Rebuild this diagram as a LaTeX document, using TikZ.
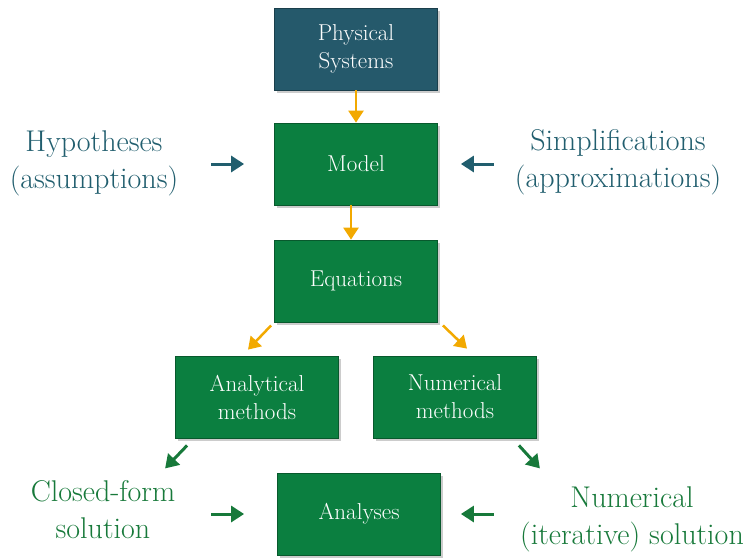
\documentclass[tikz,border=0pt]{standalone}
\usepackage{tikz}
\usetikzlibrary{arrows.meta,shadows}

\definecolor{boxteal}{HTML}{25596B}
\definecolor{textteal}{HTML}{215E6E}
\definecolor{boxgreen}{HTML}{0B7F40}
\definecolor{textgreen}{HTML}{17793A}
\definecolor{arrorange}{HTML}{F2A900}

\begin{document}
\begin{tikzpicture}[x=1pt,y=-1pt,
    box/.style={fill=boxgreen,draw=boxgreen!70!black,line width=0.8pt,
      minimum width=163pt,minimum height=82pt,inner sep=0pt,align=center,
      text=white,font=\fontsize{23}{28}\selectfont,
      drop shadow={shadow xshift=2pt,shadow yshift=-3pt,opacity=0.4}},
    tealbox/.style={box,fill=boxteal,draw=boxteal!70!black},
    side/.style={align=center,font=\fontsize{30}{37}\selectfont},
    orarrow/.style={draw=arrorange,line width=2.5pt,-{Triangle[width=15pt,length=12pt]}},
    tarrow/.style={draw=textteal,line width=3pt,-{Triangle[width=16pt,length=13pt]}},
    garrow/.style={draw=textgreen,line width=3pt,-{Triangle[width=16pt,length=13pt]}}]
  \useasboundingbox (0,0) rectangle (744,558);

  \node[tealbox] (phys) at (356,49) {Physical\\Systems};
  \node[box] (model) at (356,164) {Model};
  \node[box] (eqs) at (356,281) {Equations};
  \node[box] (anal) at (257,397) {Analytical\\methods};
  \node[box] (numm) at (455,397) {Numerical\\methods};
  \node[box] (analyses) at (359,514) {Analyses};

  \node[side,text=textteal] (hyp) at (94,163) {Hypotheses\\(assumptions)};
  \node[side,text=textteal] (simp) at (618,162) {Simplifications\\(approximations)};
  \node[side,text=textgreen] (closed) at (103,510) {Closed-form\\solution};
  \node[side,text=textgreen] (iter) at (632,519) {Numerical\\(iterative) solution};

  \draw[orarrow] (phys.south) -- (model.north);
  \draw[orarrow] ([xshift=-5]model.south) -- ([xshift=-5]eqs.north);
  \draw[orarrow] ([shift={(-3,3)}]eqs.south west) -- ([shift={(-9,-6)}]anal.north);
  \draw[orarrow] ([shift={(5,3)}]eqs.south east) -- ([shift={(12,-7)}]numm.north);

  \draw[tarrow] ([xshift=-63]model.west) -- ([xshift=-30]model.west);
  \draw[tarrow] ([xshift=56]model.east) -- ([xshift=23]model.east);

  \draw[garrow] ([shift={(12,7)}]anal.south west) -- ([shift={(-10,30)}]anal.south west);
  \draw[garrow] ([shift={(-18,7)}]numm.south east) -- ([shift={(3,30)}]numm.south east);

  \draw[garrow] ([xshift=-66]analyses.west) -- ([xshift=-33]analyses.west);
  \draw[garrow] ([xshift=53]analyses.east) -- ([xshift=20]analyses.east);
\end{tikzpicture}
\end{document}
